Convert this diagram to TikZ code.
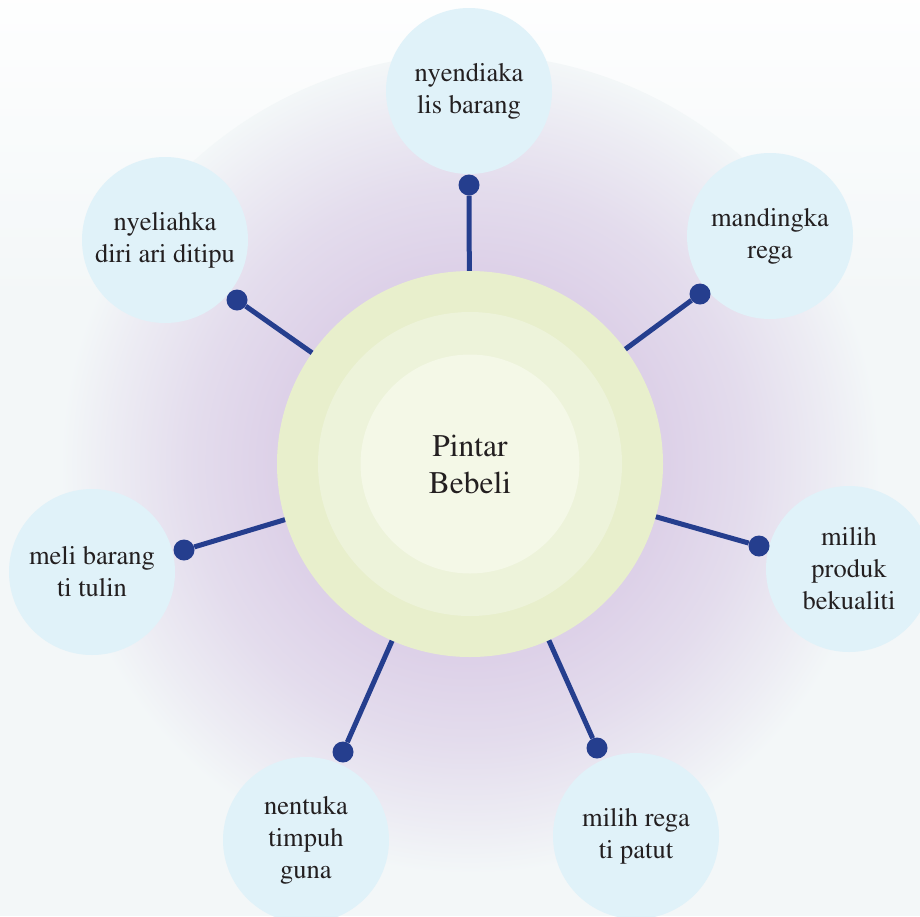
\documentclass[tikz,border=0pt]{standalone}
\usepackage[T1]{fontenc}
\usepackage{times}
\usepackage{tikz}
\usetikzlibrary{positioning}

\definecolor{glowcol}{RGB}{221,209,232}
\definecolor{bgbottom}{RGB}{243,247,248}
\definecolor{topicfill}{RGB}{224,242,249}
\definecolor{ringout}{RGB}{232,239,204}
\definecolor{ringmid}{RGB}{237,243,218}
\definecolor{ringin}{RGB}{244,248,231}
\definecolor{navy}{RGB}{37,62,142}
\definecolor{inktext}{RGB}{35,31,32}

\pgfdeclareradialshading{glowshade}{\pgfpoint{0bp}{0bp}}{%
  color(0bp)=(glowcol); color(12bp)=(glowcol);
  color(17bp)=(glowcol!70!bgbottom); color(22bp)=(glowcol!28!bgbottom);
  color(25bp)=(bgbottom); color(50bp)=(bgbottom)}

\begin{document}
\begin{tikzpicture}[
  x=1pt, y=-1pt,
  font=\fontsize{26.5}{32}\selectfont,
  topic/.style={circle, fill=topicfill, minimum size=166pt, inner sep=0pt,
                align=center, text=inktext},
  pin/.style={circle, fill=navy, minimum size=21pt, inner sep=0pt},
  link/.style={draw=navy, line width=5pt},
  ring/.style={circle, inner sep=0pt}]

\clip (0,0) rectangle (920,916);
\fill[bgbottom] (0,0) rectangle (920,916);
\shade[top color=white, bottom color=bgbottom] (0,-40) rectangle (920,300);
\shade[shading=glowshade] (470,464) circle (410);

\node (hub) [ring, fill=ringout, minimum size=386pt] at (470,464) {};
\node (hubmid) [ring, fill=ringmid, minimum size=304pt] at (hub) {};
\node (hubin) [ring, fill=ringin, minimum size=219pt, align=center, text=inktext,
               font=\fontsize{31.5}{37}\selectfont] at (hub) {Pintar\\Bebeli};

\node (lis) [topic] at (469,91) {nyendiaka\\lis barang};
\node (banding) [topic] at (770,236) {mandingka\\rega};
\node (produk) [topic] at (849,569) {milih\\produk\\bekualiti};
\node (patut) [topic] at (636,836) {milih rega\\ti patut};
\node (timpuh) [topic] at (306,840) {nentuka\\timpuh\\guna};
\node (tulin) [topic] at (92,572) {meli barang\\ti tulin};
\node (tipu) [topic] at (165,240) {nyeliahka\\diri ari ditipu};

\node (pinlis) [pin] at (469,185) {};
\node (pinbanding) [pin] at (700,294) {};
\node (pinproduk) [pin] at (759,546) {};
\node (pinpatut) [pin] at (597,748) {};
\node (pintimpuh) [pin] at (343,752) {};
\node (pintulin) [pin] at (184,550) {};
\node (pintipu) [pin] at (237,300) {};

\draw[link] (pinlis) -- (hub);
\draw[link] (pinbanding) -- (hub);
\draw[link] (pinproduk) -- (hub);
\draw[link] (pinpatut) -- (hub);
\draw[link] (pintimpuh) -- (hub);
\draw[link] (pintulin) -- (hub);
\draw[link] (pintipu) -- (hub);
\end{tikzpicture}
\end{document}
